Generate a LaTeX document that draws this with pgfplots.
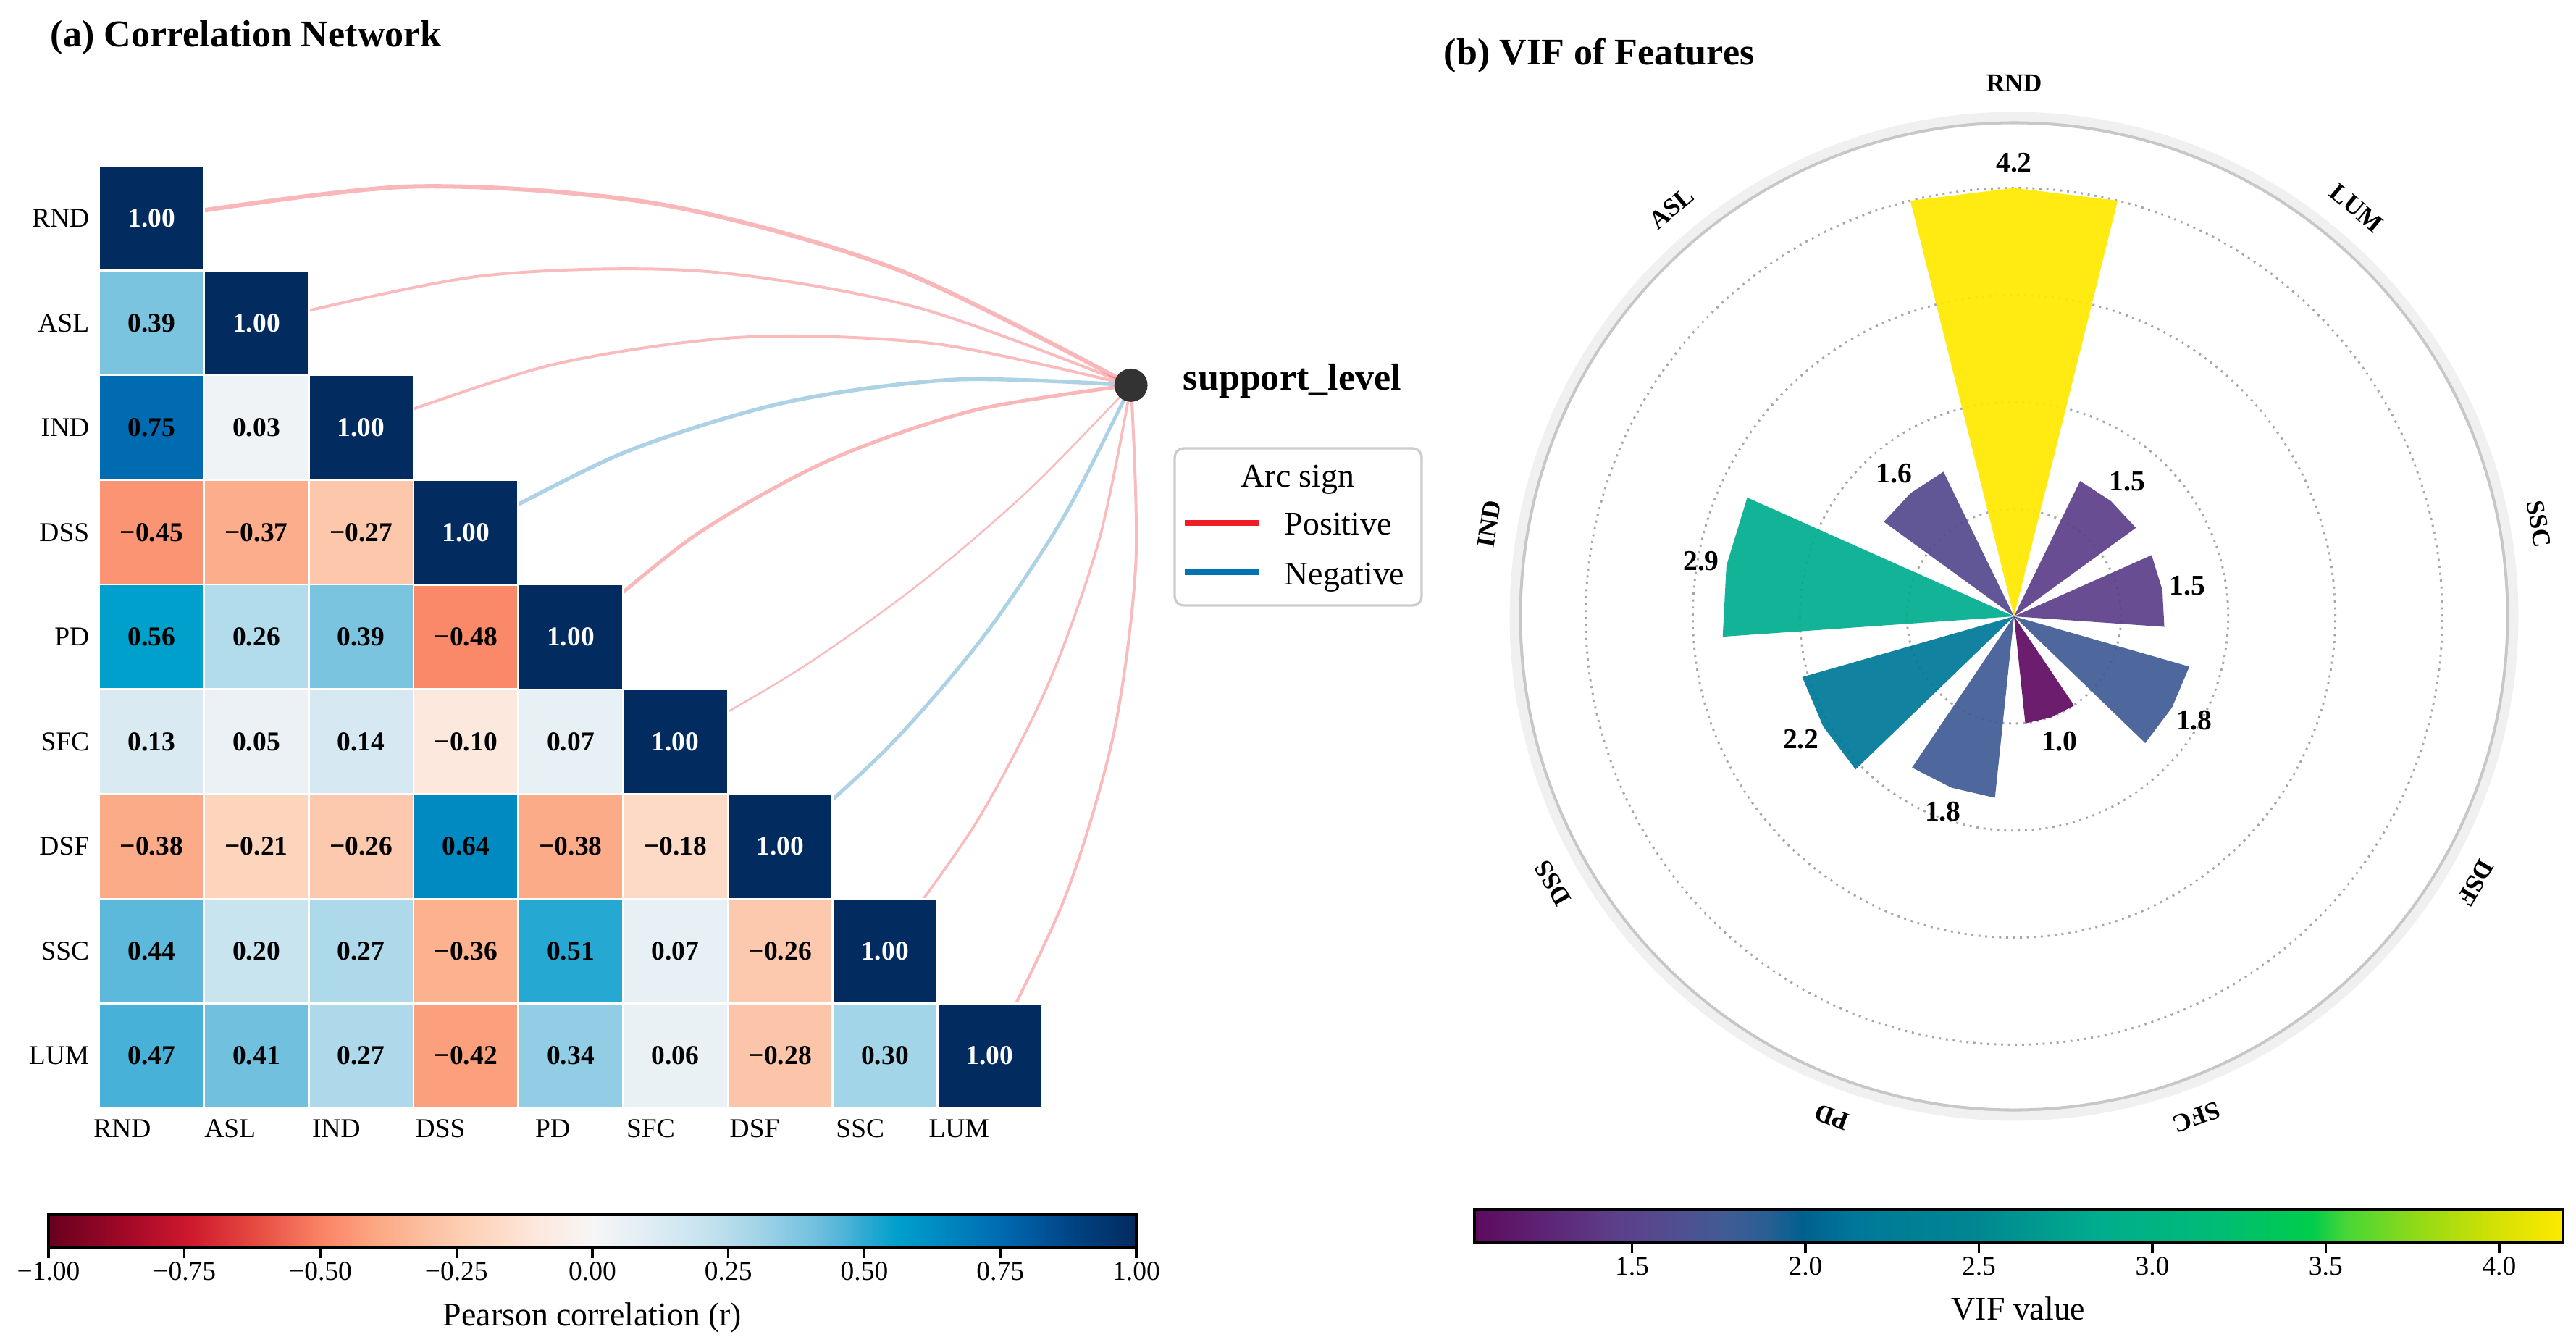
\documentclass[border=0pt]{standalone}
\usepackage{pgfplots}
\pgfplotsset{compat=1.18}
\usepackage{pgfplotstable}
\usepgfplotslibrary{polar}
\usepackage{fontspec}
\setmainfont{Liberation Serif}

\newcommand{\fs}[1]{\fontsize{#1pt}{#1pt}\selectfont}

% arc / legend colours
\definecolor{posc}{RGB}{238,30,36}
\definecolor{negc}{RGB}{0,115,178}
% VIF bar colours
\definecolor{cRND}{RGB}{255,233,0}
\definecolor{cASL}{RGB}{85,74,143}
\definecolor{cIND}{RGB}{0,173,142}
\definecolor{cDSS}{RGB}{0,120,154}
\definecolor{cPD}{RGB}{65,91,149}
\definecolor{cSFC}{RGB}{98,12,98}
\definecolor{cDSF}{RGB}{65,91,149}
\definecolor{cSSC}{RGB}{93,63,139}
\definecolor{cLUM}{RGB}{93,63,139}

\pgfplotsset{
  colormap={rdbuc}{
    rgb255(0pt)=(103,0,31) rgb255(8pt)=(170,10,40) rgb255(13pt)=(205,25,45)
    rgb255(19pt)=(230,75,65) rgb255(25pt)=(250,130,100) rgb255(30pt)=(252,166,130)
    rgb255(35pt)=(252,193,163) rgb255(40pt)=(253,214,191) rgb255(45pt)=(253,232,222)
    rgb255(50pt)=(246,246,246) rgb255(55pt)=(224,237,244) rgb255(60pt)=(200,228,239)
    rgb255(65pt)=(163,213,232) rgb255(70pt)=(118,194,223) rgb255(73pt)=(80,180,217)
    rgb255(75pt)=(45,170,210) rgb255(78pt)=(0,160,204) rgb255(82pt)=(0,138,193)
    rgb255(88pt)=(0,104,176) rgb255(94pt)=(0,68,132) rgb255(100pt)=(2,43,95)},
  colormap={virc}{
    rgb255(0pt)=(94,10,94) rgb255(13pt)=(93,63,139) rgb255(17pt)=(85,74,143)
    rgb255(23pt)=(65,91,149) rgb255(27pt)=(40,95,147) rgb255(30pt)=(0,96,144)
    rgb255(35pt)=(0,120,154) rgb255(46pt)=(0,135,145) rgb255(57pt)=(0,172,142)
    rgb255(68pt)=(0,188,118) rgb255(77pt)=(0,205,75) rgb255(80pt)=(70,214,55)
    rgb255(87pt)=(150,218,20) rgb255(93pt)=(205,224,5) rgb255(100pt)=(255,233,0)},
}

% lower triangle of the correlation matrix, x = column, y = 8 - row
\pgfplotstableread{
x y r lab
0 7 0.39 0.39
0 6 0.75 0.75
1 6 0.03 0.03
0 5 -0.45 −0.45
1 5 -0.37 −0.37
2 5 -0.27 −0.27
0 4 0.56 0.56
1 4 0.26 0.26
2 4 0.39 0.39
3 4 -0.48 −0.48
0 3 0.13 0.13
1 3 0.05 0.05
2 3 0.14 0.14
3 3 -0.10 −0.10
4 3 0.07 0.07
0 2 -0.38 −0.38
1 2 -0.21 −0.21
2 2 -0.26 −0.26
3 2 0.64 0.64
4 2 -0.38 −0.38
5 2 -0.18 −0.18
0 1 0.44 0.44
1 1 0.20 0.20
2 1 0.27 0.27
3 1 -0.36 −0.36
4 1 0.51 0.51
5 1 0.07 0.07
6 1 -0.26 −0.26
0 0 0.47 0.47
1 0 0.41 0.41
2 0 0.27 0.27
3 0 -0.42 −0.42
4 0 0.34 0.34
5 0 0.06 0.06
6 0 -0.28 −0.28
7 0 0.30 0.30
}\offdiag

\pgfplotstableread{
x y r lab
0 8 1.00 1.00
1 7 1.00 1.00
2 6 1.00 1.00
3 5 1.00 1.00
4 4 1.00 1.00
5 3 1.00 1.00
6 2 1.00 1.00
7 1 1.00 1.00
8 0 1.00 1.00
}\diag

% VIF per feature, angle in degrees
\pgfplotstableread{
theta vif lab
90 4.18 4.2
130 1.57 1.6
170 2.85 2.9
210 2.15 2.2
250 1.78 1.8
290 1.05 1.0
330 1.78 1.8
10 1.47 1.5
50 1.47 1.5
}\viftab

\begin{document}
\begin{tikzpicture}
\useasboundingbox (0,0) rectangle (853.68pt,442.8pt);

% ---------------- (a) heatmap + arcs ----------------
\begin{axis}[
  at={(32.88pt,75.6pt)}, anchor=south west,
  width=312.48pt, height=312.24pt, scale only axis,
  xmin=-0.5, xmax=8.5, ymin=-0.5, ymax=8.5,
  clip=false,
  axis line style={draw=none},
  major tick length=0pt,
  tick style={draw=none},
  xtick={0,...,8}, xticklabels={RND,ASL,IND,DSS,PD,SFC,DSF,SSC,LUM},
  ytick={0,...,8}, yticklabels={LUM,SSC,DSF,SFC,PD,DSS,IND,ASL,RND},
  xticklabel style={anchor=north east, inner sep=0pt, yshift=-3.6pt, font=\fs{9}},
  yticklabel style={anchor=east, inner sep=0pt, xshift=-3.1pt, font=\fs{9}},
  colormap name=rdbuc, point meta min=-1, point meta max=1,
]
\addplot[scatter, only marks, mark=square*, mark size=17.36pt,
  point meta=explicit,
  scatter/use mapped color={draw=white, fill=mapped color},
  mark options={line width=0.6pt}]
  table[x=x, y=y, meta=r] {\offdiag};
\addplot[scatter, only marks, mark=square*, mark size=17.36pt,
  point meta=explicit,
  scatter/use mapped color={draw=white, fill=mapped color},
  mark options={line width=0.6pt}]
  table[x=x, y=y, meta=r] {\diag};

% arcs from each diagonal cell to support_level
\addplot[smooth, color=posc, opacity=0.32, line width=1.45pt] coordinates {(0,8) (2.457,8.302) (4.833,8.137) (7.131,7.505) (9.348,6.405)};
\addplot[smooth, color=posc, opacity=0.3, line width=0.95pt] coordinates {(1,7) (3.129,7.446) (5.231,7.496) (7.303,7.149) (9.348,6.405)};
\addplot[smooth, color=posc, opacity=0.3, line width=0.95pt] coordinates {(2,6) (3.810,6.597) (5.638,6.864) (7.484,6.800) (9.348,6.405)};
\addplot[smooth, color=negc, opacity=0.32, line width=1.3pt] coordinates {(3,5) (4.497,5.756) (6.055,6.242) (7.671,6.459) (9.348,6.405)};
\addplot[smooth, color=posc, opacity=0.32, line width=1.2pt] coordinates {(4,4) (5.175,4.962) (6.458,5.684) (7.849,6.165) (9.348,6.405)};
\addplot[smooth, color=posc, opacity=0.3, line width=0.6pt] coordinates {(5,3) (6.202,3.704) (7.327,4.507) (8.376,5.407) (9.348,6.405)};
\addplot[smooth, color=negc, opacity=0.32, line width=1.2pt] coordinates {(6,2) (7.035,2.951) (7.939,4.002) (8.709,5.153) (9.348,6.405)};
\addplot[smooth, color=posc, opacity=0.3, line width=0.85pt] coordinates {(7,1) (7.871,2.228) (8.553,3.538) (9.045,4.931) (9.348,6.405)};
\addplot[smooth, color=posc, opacity=0.3, line width=0.95pt] coordinates {(8,0) (8.721,1.520) (9.187,3.095) (9.395,4.723) (9.348,6.405)};

% cell values
\addplot[only marks, mark=none, point meta=explicit symbolic,
  nodes near coords, nodes near coords align=center,
  every node near coord/.append style={font=\bfseries\fs{9}, text=black, inner sep=0pt}]
  table[x=x, y=y, meta=lab] {\offdiag};
\addplot[only marks, mark=none, point meta=explicit symbolic,
  nodes near coords, nodes near coords align=center,
  every node near coord/.append style={font=\bfseries\fs{9}, text=white, inner sep=0pt}]
  table[x=x, y=y, meta=lab] {\diag};

% target node
\addplot[only marks, mark=*, mark size=5.3pt, color=black!80] coordinates {(9.348,6.405)};
\end{axis}

% colorbar (a)
\begin{axis}[
  at={(16.08pt,29.52pt)}, anchor=south west,
  hide axis, scale only axis, width=0pt, height=0pt,
  colormap name=rdbuc, point meta min=-1, point meta max=1,
  colorbar horizontal,
  colorbar shift/.style={},
  colorbar style={
    at={(parent axis.south west)}, anchor=south west,
    width=360.48pt, height=10.8pt, scale only axis,
    xtick={-1,-0.75,-0.5,-0.25,0,0.25,0.5,0.75,1},
    xticklabels={−1.00,−0.75,−0.50,−0.25,0.00,0.25,0.50,0.75,1.00},
    xtick pos=left, xticklabel pos=left, xtick align=outside,
    major tick length=3.5pt,
    xtick style={black, line width=0.8pt},
    ytick=\empty,
    axis line style={black, line width=0.8pt},
    xticklabel style={font=\fs{9}, inner sep=0pt, anchor=north, yshift=-1.3pt},
  },
]
\addplot[draw=none] coordinates {(0,0)};
\end{axis}

% ---------------- (b) polar VIF ----------------
\begin{polaraxis}[
  at={(667.44pt,238.56pt)}, anchor=center,
  width=327.36pt, height=327.36pt, scale only axis,
  ymin=0, ymax=4.82,
  xtick=\empty, xmajorgrids=false,
  ytick={1.045,2.09,3.135,4.18}, yticklabels={,,,},
  ymajorgrids=true,
  major grid style={black!35, line width=0.7pt, dash pattern=on 0.7pt off 1.6pt},
  axis line style={draw=black!22, line width=1.2pt},
  y axis line style={draw=none},
  ytick style={draw=none},
  clip=false,
]
\draw[black!6, line width=3.1pt] (axis cs:0,0) circle[radius=165.6pt];

\addplot[fill=cRND, draw=none, fill opacity=0.93] coordinates {(0,0) (76,4.18) (90,4.18) (104,4.18)};
\addplot[fill=cASL, draw=none, fill opacity=0.93] coordinates {(0,0) (116,1.57) (130,1.57) (144,1.57)};
\addplot[fill=cIND, draw=none, fill opacity=0.93] coordinates {(0,0) (156,2.85) (170,2.85) (184,2.85)};
\addplot[fill=cDSS, draw=none, fill opacity=0.93] coordinates {(0,0) (196,2.15) (210,2.15) (224,2.15)};
\addplot[fill=cPD,  draw=none, fill opacity=0.93] coordinates {(0,0) (236,1.78) (250,1.78) (264,1.78)};
\addplot[fill=cSFC, draw=none, fill opacity=0.93] coordinates {(0,0) (276,1.05) (290,1.05) (304,1.05)};
\addplot[fill=cDSF, draw=none, fill opacity=0.93] coordinates {(0,0) (316,1.78) (330,1.78) (344,1.78)};
\addplot[fill=cSSC, draw=none, fill opacity=0.93] coordinates {(0,0) (-4,1.47) (10,1.47) (24,1.47)};
\addplot[fill=cLUM, draw=none, fill opacity=0.93] coordinates {(0,0) (36,1.47) (50,1.47) (64,1.47)};

% value labels
\addplot[only marks, mark=none, point meta=explicit symbolic,
  nodes near coords, nodes near coords align=center,
  every node near coord/.append style={font=\bfseries\fs{9.5}, text=black, inner sep=0pt}]
  table[x=theta, y expr=\thisrow{vif}+0.25, meta=lab] {\viftab};

% category labels
\node[font=\bfseries\fs{8.5}, rotate=0]   at (axis cs:90,5.2)  {RND};
\node[font=\bfseries\fs{8.5}, rotate=40]  at (axis cs:130,5.2) {ASL};
\node[font=\bfseries\fs{8.5}, rotate=80]  at (axis cs:170,5.2) {IND};
\node[font=\bfseries\fs{8.5}, rotate=120] at (axis cs:210,5.2) {DSS};
\node[font=\bfseries\fs{8.5}, rotate=160] at (axis cs:250,5.2) {PD};
\node[font=\bfseries\fs{8.5}, rotate=200] at (axis cs:290,5.2) {SFC};
\node[font=\bfseries\fs{8.5}, rotate=240] at (axis cs:330,5.2) {DSF};
\node[font=\bfseries\fs{8.5}, rotate=-80] at (axis cs:10,5.2)  {SSC};
\node[font=\bfseries\fs{8.5}, rotate=-40] at (axis cs:50,5.2)  {LUM};
\end{polaraxis}

% colorbar (b)
\begin{axis}[
  at={(488.64pt,31.2pt)}, anchor=south west,
  hide axis, scale only axis, width=0pt, height=0pt,
  colormap name=virc, point meta min=1.046, point meta max=4.184,
  colorbar horizontal,
  colorbar shift/.style={},
  colorbar style={
    at={(parent axis.south west)}, anchor=south west,
    width=360.72pt, height=10.8pt, scale only axis,
    xtick={1.5,2.0,2.5,3.0,3.5,4.0},
    xticklabels={1.5,2.0,2.5,3.0,3.5,4.0},
    xtick pos=left, xticklabel pos=left, xtick align=outside,
    major tick length=3.5pt,
    xtick style={black, line width=0.8pt},
    ytick=\empty,
    axis line style={black, line width=0.8pt},
    xticklabel style={font=\fs{9}, inner sep=0pt, anchor=north, yshift=-1.3pt},
  },
]
\addplot[draw=none] coordinates {(0,0)};
\end{axis}

% ---------------- texts and legend ----------------
\node[anchor=base west, inner sep=0pt, font=\bfseries\fs{12.5}] at (16.56pt,427.2pt) {(a) Correlation Network};
\node[anchor=base west, inner sep=0pt, font=\bfseries\fs{12.5}] at (478.32pt,421.2pt) {(b) VIF of Features};
\node[anchor=base west, inner sep=0pt, font=\bfseries\fs{12.5}] at (391.92pt,313.68pt) {support\_level};

\draw[black!20, line width=0.8pt, rounded corners=3pt, fill=white] (389.28pt,242.16pt) rectangle (471.12pt,294.24pt);
\node[anchor=base, inner sep=0pt, font=\fs{11}] at (430.08pt,281.52pt) {Arc sign};
\draw[posc, line width=1.7pt] (392.64pt,269.52pt) -- (417.36pt,269.52pt);
\node[anchor=base west, inner sep=0pt, font=\fs{11}] at (425.52pt,265.68pt) {Positive};
\draw[negc, line width=1.7pt] (392.64pt,253.2pt) -- (417.36pt,253.2pt);
\node[anchor=base west, inner sep=0pt, font=\fs{11}] at (425.52pt,249.12pt) {Negative};

\node[anchor=base, inner sep=0pt, font=\fs{11}] at (196.32pt,3.6pt) {Pearson correlation (r)};
\node[anchor=base, inner sep=0pt, font=\fs{11}] at (668.88pt,5.52pt) {VIF value};
\end{tikzpicture}
\end{document}
